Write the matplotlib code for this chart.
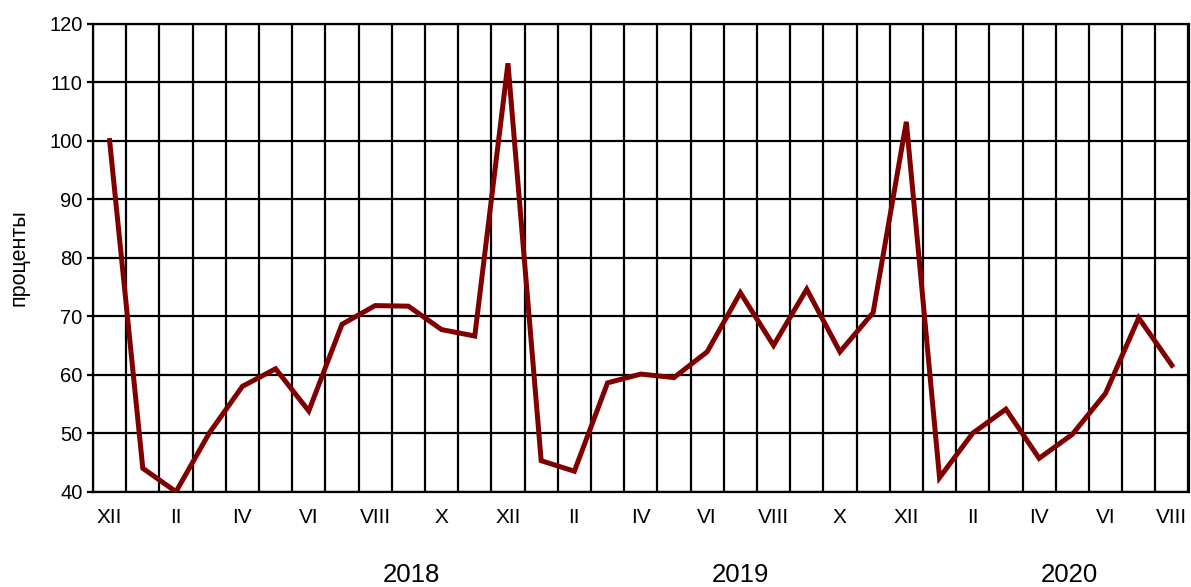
import matplotlib.pyplot as plt
import numpy as np

months = ["XII", "I", "II", "III", "IV", "V", "VI", "VII", "VIII", "IX", "X", "XI",
          "XII", "I", "II", "III", "IV", "V", "VI", "VII", "VIII", "IX", "X", "XI",
          "XII", "I", "II", "III", "IV", "V", "VI", "VII", "VIII"]
values = [100.0, 44.0, 40.0, 50.0, 58.0, 61.0, 53.8, 68.6, 71.8, 71.7, 67.7, 66.6,
          113.2, 45.3, 43.5, 58.6, 60.1, 59.5, 63.9, 74.0, 65.0, 74.6, 63.9, 70.6,
          103.2, 42.4, 50.0, 54.1, 45.7, 49.8, 56.8, 69.7, 61.6]
years = ["2018", "2019", "2020"]
year_pos = [9.1, 19.0, 28.9]

x = np.arange(len(values))
font = "Liberation Sans"

fig = plt.figure(figsize=(11.91, 5.87), dpi=100)
ax = fig.add_axes([93 / 1191, 1 - 491.7 / 587, (1188.5 - 93) / 1191, (491.7 - 23.5) / 587])

ax.plot(x, values, color="#800000", lw=3.6, solid_joinstyle="miter", zorder=3)

ax.set_xlim(-0.5, len(values) - 0.5)
ax.set_ylim(40, 120)
ax.set_yticks(np.arange(40, 121, 10))

# сетка: вертикальные линии на границах месяцев
for b in np.arange(-0.5, len(values), 1.0):
    ax.axvline(b, color="black", lw=1.6, zorder=1)
for yv in np.arange(40, 121, 10):
    ax.axhline(yv, color="black", lw=1.6, zorder=1)

ax.set_xticks(x[::2])
ax.set_xticklabels(months[::2])
ax.tick_params(axis="x", length=0, pad=12, labelsize=15)
ax.tick_params(axis="y", length=4.5, width=1.6, labelsize=14.5, pad=3)

for s in ax.spines.values():
    s.set_linewidth(1.6)

for yr, p in zip(years, year_pos):
    ax.text(p, 40 - (575 - 491.7) / 5.85, yr, ha="center", va="center",
            fontsize=18.5, family=font)

ax.set_ylabel("проценты", fontsize=15.5, family=font)
ax.yaxis.set_label_coords(-(93 - 30) / (1188.5 - 93), 0.5)

for lab in ax.get_xticklabels() + ax.get_yticklabels():
    lab.set_family(font)

fig.savefig("out.png", dpi=100)
